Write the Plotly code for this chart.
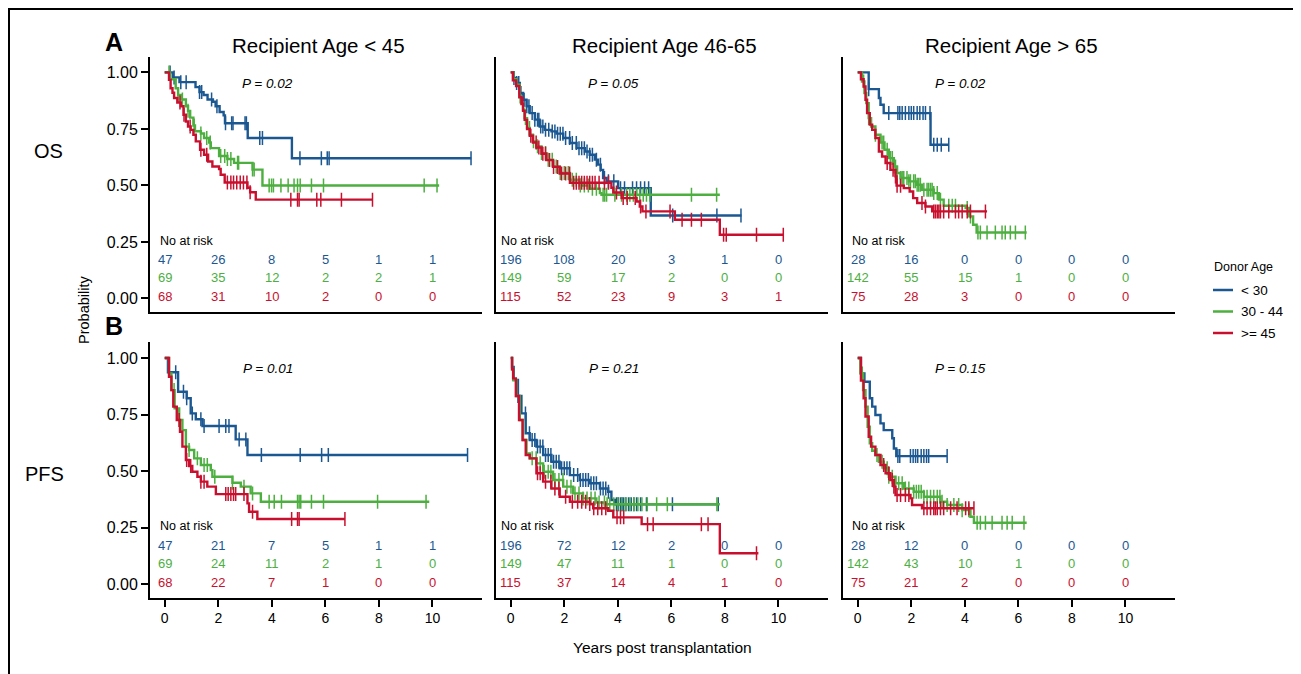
import bisect
import plotly.graph_objects as go

# ---------------- data ----------------
BLUE = "#1b5791"
GREEN = "#4caf3f"
RED = "#c8102e"

groups = ["< 30", "30 - 44", ">= 45"]
col_titles = ["Recipient Age < 45", "Recipient Age 46-65", "Recipient Age > 65"]
row_labels = ["OS", "PFS"]
p_values = [["P = 0.02", "P = 0.05", "P = 0.02"], ["P = 0.01", "P = 0.21", "P = 0.15"]]
risk_times = [0, 2, 4, 6, 8, 10]
x_ticks = [0, 2, 4, 6, 8, 10]
y_ticks = [0.0, 0.25, 0.5, 0.75, 1.0]
y_ticktext = ["0.00", "0.25", "0.50", "0.75", "1.00"]

# ---- OS, recipient < 45
os1_blue_t = [0, 0.3, 0.55, 1.15, 1.3, 1.45, 1.6, 1.8, 1.9, 2.05, 2.2, 2.25, 3.1, 4.75, 11.45]
os1_blue_s = [1, 0.978, 0.957, 0.935, 0.913, 0.90, 0.88, 0.87, 0.85, 0.825, 0.81, 0.775, 0.71, 0.62, 0.62]
os1_blue_c = [0.2, 0.35, 0.6, 0.8, 1.3, 1.38, 1.75, 1.95, 2.27, 2.5, 2.55, 3.0, 3.05, 3.55, 3.65, 5.05, 5.85, 6.07, 6.14, 11.44]
os1_green_t = [0, 0.2, 0.41, 0.50, 0.60, 0.79, 0.87, 0.95, 1.07, 1.13, 1.35, 1.47, 1.66, 1.72, 2.03, 2.34, 2.59, 3.28, 3.65, 10.25]
os1_green_s = [1, 0.97, 0.93, 0.90, 0.88, 0.85, 0.83, 0.80, 0.765, 0.74, 0.73, 0.71, 0.69, 0.665, 0.63, 0.617, 0.60, 0.57, 0.50, 0.50]
os1_green_c = [0.16, 0.50, 0.66, 0.87, 1.10, 1.35, 1.57, 1.70, 2.09, 2.24, 2.34, 2.47, 2.72, 2.76, 3.28, 3.34, 3.90, 3.99, 4.06, 4.34, 4.61, 4.83, 4.96, 5.06, 5.48, 5.93, 9.69, 10.17]
os1_red_t = [0, 0.16, 0.22, 0.29, 0.35, 0.47, 0.60, 0.70, 0.79, 0.87, 0.97, 1.07, 1.16, 1.32, 1.47, 1.62, 1.78, 2.03, 2.09, 2.24, 3.09, 3.19, 3.40, 7.76]
os1_red_s = [1, 0.967, 0.93, 0.91, 0.887, 0.867, 0.85, 0.813, 0.783, 0.761, 0.746, 0.724, 0.695, 0.658, 0.636, 0.606, 0.584, 0.573, 0.547, 0.513, 0.49, 0.47, 0.437, 0.437]
os1_red_c = [0.57, 0.72, 0.95, 1.35, 1.57, 2.34, 2.47, 2.57, 2.69, 2.82, 2.94, 3.07, 3.19, 4.71, 4.96, 5.02, 5.68, 5.83, 6.6, 7.76]

# ---- OS, recipient 46-65
os2_blue_t = [0, 0.1, 0.21, 0.34, 0.46, 0.59, 0.71, 0.90, 1.08, 1.27, 1.52, 1.71, 1.96, 2.21, 2.46, 2.77, 2.95, 3.14, 3.26, 3.36, 3.45, 3.58, 4.01, 5.23, 8.62]
os2_blue_s = [1, 0.975, 0.953, 0.909, 0.879, 0.85, 0.82, 0.791, 0.761, 0.746, 0.739, 0.729, 0.71, 0.688, 0.665, 0.65, 0.636, 0.614, 0.592, 0.569, 0.533, 0.518, 0.488, 0.367, 0.367]
os2_blue_c = [0.12, 0.22, 0.3, 0.38, 0.5, 0.6, 0.68, 0.8, 0.9, 1.0, 1.05, 1.12, 1.2, 1.3, 1.42, 1.55, 1.65, 1.75, 1.85, 1.95, 2.05, 2.2, 2.3, 2.45, 2.55, 2.65, 2.75, 2.85, 2.95, 3.05, 3.2, 3.35, 3.5, 3.65, 3.85, 4.1, 4.25, 4.55, 4.7, 4.85, 5.0, 5.15, 6.05, 7.7, 8.6]
os2_green_t = [0, 0.1, 0.21, 0.34, 0.40, 0.46, 0.52, 0.61, 0.71, 0.83, 0.96, 1.15, 1.33, 1.58, 1.83, 2.21, 2.58, 2.95, 3.33, 3.39, 7.81]
os2_green_s = [1, 0.97, 0.946, 0.894, 0.864, 0.835, 0.798, 0.754, 0.724, 0.695, 0.673, 0.643, 0.614, 0.584, 0.555, 0.525, 0.50, 0.485, 0.466, 0.459, 0.459]
os2_green_c = [0.35, 0.55, 0.7, 0.85, 1.0, 1.15, 1.3, 1.4, 1.55, 1.7, 1.85, 2.0, 2.15, 2.3, 2.45, 2.6, 2.75, 2.9, 3.05, 3.2, 3.45, 3.51, 3.58, 3.89, 4.14, 4.33, 4.45, 4.58, 4.70, 4.82, 4.95, 5.07, 5.20, 6.75, 7.69]
os2_red_t = [0, 0.08, 0.2, 0.32, 0.40, 0.46, 0.52, 0.61, 0.71, 0.83, 0.96, 1.15, 1.33, 1.58, 1.83, 2.21, 3.76, 3.83, 4.14, 4.70, 4.82, 4.92, 6.13, 7.81, 10.18]
os2_red_s = [1, 0.965, 0.94, 0.89, 0.86, 0.83, 0.79, 0.75, 0.72, 0.69, 0.668, 0.64, 0.612, 0.582, 0.553, 0.512, 0.49, 0.469, 0.444, 0.429, 0.407, 0.385, 0.348, 0.282, 0.282]
os2_red_c = [0.45, 0.75, 0.95, 1.05, 1.2, 1.3, 1.45, 1.6, 1.75, 1.9, 2.05, 2.2, 2.35, 2.45, 2.55, 2.65, 2.75, 2.85, 2.95, 3.05, 3.15, 3.3, 3.5, 3.65, 3.95, 4.2, 4.35, 4.65, 4.85, 5.05, 5.95, 6.4, 6.75, 7.12, 7.95, 8.05, 9.18, 10.18]

# ---- OS, recipient > 65
os3_blue_t = [0, 0.41, 0.79, 0.85, 0.97, 2.72, 3.40]
os3_blue_s = [1, 0.926, 0.887, 0.857, 0.82, 0.68, 0.68]
os3_blue_c = [0.41, 1.16, 1.50, 1.57, 1.66, 1.78, 1.91, 2.0, 2.09, 2.22, 2.32, 2.44, 2.53, 2.70, 2.84, 2.97, 3.12, 3.40]
os3_green_t = [0, 0.16, 0.25, 0.32, 0.41, 0.50, 0.66, 0.85, 1.0, 1.16, 1.35, 1.47, 1.60, 1.91, 2.22, 2.40, 2.84, 3.03, 3.21, 4.03, 4.15, 4.31, 4.44, 6.31]
os3_green_s = [1, 0.96, 0.909, 0.864, 0.798, 0.761, 0.724, 0.69, 0.658, 0.621, 0.584, 0.555, 0.533, 0.518, 0.503, 0.481, 0.466, 0.437, 0.41, 0.40, 0.363, 0.326, 0.292, 0.292]
os3_green_c = [0.22, 0.41, 0.66, 0.91, 0.97, 1.10, 1.22, 1.29, 1.35, 1.41, 1.47, 1.60, 1.66, 1.72, 1.84, 1.91, 1.97, 2.09, 2.15, 2.22, 2.28, 2.34, 2.47, 2.59, 2.65, 2.72, 2.78, 2.84, 2.97, 3.09, 3.40, 3.53, 3.65, 4.09, 4.21, 4.49, 4.58, 4.83, 5.14, 5.39, 5.51, 5.70, 5.89, 6.26]
os3_red_t = [0, 0.12, 0.22, 0.29, 0.35, 0.45, 0.54, 0.66, 0.79, 0.91, 1.04, 1.22, 1.41, 1.45, 1.72, 1.94, 2.07, 2.22, 2.53, 2.78, 4.83]
os3_red_s = [1, 0.97, 0.938, 0.879, 0.82, 0.769, 0.746, 0.71, 0.65, 0.628, 0.599, 0.569, 0.54, 0.499, 0.488, 0.473, 0.444, 0.422, 0.407, 0.385, 0.385]
os3_red_c = [1.10, 1.32, 1.41, 1.47, 1.60, 2.40, 2.53, 2.84, 2.90, 2.97, 3.03, 3.09, 3.21, 3.40, 3.65, 3.77, 3.90, 4.09, 4.21, 4.77]

# ---- PFS, recipient < 45
pfs1_blue_t = [0, 0.12, 0.50, 0.82, 0.97, 1.16, 1.41, 2.65, 3.09, 11.31]
pfs1_blue_s = [1, 0.937, 0.851, 0.822, 0.755, 0.729, 0.699, 0.64, 0.571, 0.571]
pfs1_blue_c = [0.41, 0.70, 0.82, 1.03, 1.35, 1.47, 2.03, 2.28, 2.40, 2.78, 3.03, 3.61, 5.06, 5.86, 6.11, 11.31]
pfs1_green_t = [0, 0.16, 0.25, 0.37, 0.54, 0.66, 0.79, 0.91, 1.10, 1.35, 1.72, 1.78, 2.53, 2.84, 3.21, 3.59, 9.88]
pfs1_green_s = [1, 0.932, 0.858, 0.777, 0.726, 0.681, 0.608, 0.593, 0.556, 0.527, 0.504, 0.475, 0.448, 0.431, 0.401, 0.364, 0.364]
pfs1_green_c = [0.35, 0.54, 0.91, 1.22, 1.47, 1.59, 1.87, 2.53, 2.96, 3.28, 3.90, 4.09, 4.36, 4.96, 5.02, 5.08, 5.48, 5.93, 7.95, 9.76]
pfs1_red_t = [0, 0.16, 0.25, 0.32, 0.45, 0.57, 0.66, 0.79, 0.91, 1.03, 1.22, 1.35, 1.59, 1.91, 3.09, 3.15, 3.46, 6.73]
pfs1_red_s = [1, 0.917, 0.858, 0.785, 0.726, 0.674, 0.608, 0.549, 0.522, 0.497, 0.475, 0.453, 0.431, 0.398, 0.357, 0.32, 0.288, 0.288]
pfs1_red_c = [0.54, 0.82, 0.97, 1.35, 1.47, 2.28, 2.37, 2.47, 2.57, 2.65, 2.96, 3.28, 4.74, 4.96, 5.02, 6.73]

# ---- PFS, recipient 46-65
pfs2_blue_t = [0, 0.05, 0.11, 0.27, 0.40, 0.56, 0.71, 0.96, 1.21, 1.52, 1.83, 2.21, 2.58, 2.95, 3.33, 3.64, 3.76, 3.89, 7.75]
pfs2_blue_s = [1, 0.96, 0.903, 0.832, 0.755, 0.667, 0.637, 0.608, 0.571, 0.541, 0.512, 0.482, 0.46, 0.446, 0.423, 0.408, 0.372, 0.353, 0.353]
pfs2_blue_c = [0.27, 0.55, 0.7, 0.8, 0.9, 1.0, 1.1, 1.2, 1.3, 1.4, 1.5, 1.6, 1.7, 1.8, 1.9, 2.0, 2.1, 2.2, 2.35, 2.5, 2.6, 2.7, 2.8, 2.9, 3.0, 3.1, 3.2, 3.35, 3.45, 3.55, 3.65, 3.95, 4.02, 4.1, 4.16, 4.22, 4.3, 4.4, 4.5, 4.6, 4.7, 4.85, 5.07, 6.04, 7.75]
pfs2_green_t = [0, 0.05, 0.09, 0.21, 0.34, 0.46, 0.59, 0.71, 0.96, 1.21, 1.58, 1.96, 2.33, 2.70, 3.20, 3.51, 7.81]
pfs2_green_s = [1, 0.95, 0.903, 0.832, 0.726, 0.637, 0.578, 0.556, 0.534, 0.497, 0.46, 0.431, 0.401, 0.379, 0.361, 0.353, 0.353]
pfs2_green_c = [0.8, 0.95, 1.1, 1.25, 1.4, 1.5, 1.65, 1.8, 1.95, 2.1, 2.25, 2.4, 2.55, 2.7, 2.85, 3.0, 3.15, 3.3, 3.5, 3.6, 3.7, 3.85, 4.0, 4.15, 4.3, 4.45, 4.6, 4.75, 4.9, 5.1, 5.45, 5.85, 7.7]
pfs2_red_t = [0, 0.05, 0.09, 0.19, 0.31, 0.44, 0.56, 0.71, 0.96, 1.21, 1.52, 1.83, 2.21, 2.95, 3.08, 3.64, 3.83, 4.89, 7.81, 9.25]
pfs2_red_s = [1, 0.95, 0.91, 0.832, 0.726, 0.637, 0.571, 0.556, 0.49, 0.453, 0.423, 0.386, 0.364, 0.354, 0.335, 0.324, 0.295, 0.265, 0.136, 0.136]
pfs2_red_c = [1.0, 1.1, 1.3, 1.5, 1.65, 1.8, 2.05, 2.3, 2.5, 2.65, 2.8, 2.95, 3.1, 3.25, 3.4, 3.55, 3.97, 4.1, 4.22, 5.11, 5.32, 7.12, 7.37, 9.18]

# ---- PFS, recipient > 65
pfs3_blue_t = [0, 0.12, 0.25, 0.45, 0.54, 0.66, 0.85, 0.97, 1.29, 1.35, 1.44, 3.34]
pfs3_blue_s = [1, 0.932, 0.895, 0.822, 0.785, 0.748, 0.711, 0.681, 0.645, 0.60, 0.566, 0.566]
pfs3_blue_c = [1.50, 1.57, 1.97, 2.07, 2.16, 2.24, 2.37, 2.47, 2.57, 2.65, 3.34]
pfs3_green_t = [0, 0.10, 0.20, 0.29, 0.37, 0.45, 0.54, 0.66, 0.79, 0.97, 1.16, 1.41, 1.72, 2.09, 2.47, 3.09, 3.34, 3.90, 4.21, 4.34, 6.31]
pfs3_green_s = [1, 0.932, 0.858, 0.785, 0.696, 0.623, 0.59, 0.571, 0.541, 0.512, 0.475, 0.446, 0.423, 0.408, 0.386, 0.364, 0.35, 0.327, 0.298, 0.271, 0.271]
pfs3_green_c = [0.17, 0.72, 0.91, 1.10, 1.16, 1.29, 1.41, 1.53, 1.66, 1.78, 1.91, 2.09, 2.19, 2.28, 2.37, 2.47, 2.59, 2.72, 2.84, 2.97, 3.07, 3.15, 3.34, 3.59, 3.77, 3.90, 4.15, 4.46, 4.58, 4.77, 5.02, 5.39, 5.58, 5.77, 6.21]
pfs3_red_t = [0, 0.12, 0.22, 0.29, 0.41, 0.50, 0.66, 0.85, 1.04, 1.22, 1.35, 1.41, 1.97, 2.03, 2.40, 4.34]
pfs3_red_s = [1, 0.90, 0.822, 0.741, 0.652, 0.608, 0.571, 0.527, 0.49, 0.46, 0.431, 0.394, 0.379, 0.35, 0.335, 0.335]
pfs3_red_c = [0.97, 1.16, 1.29, 1.35, 1.47, 1.60, 1.78, 1.91, 2.47, 2.59, 2.72, 2.84, 2.90, 2.97, 3.09, 3.21, 3.47, 3.71, 4.03, 4.15, 4.34]

# ---- numbers at risk (rows: <30, 30-44, >=45)
risk_os1 = [[47, 26, 8, 5, 1, 1], [69, 35, 12, 2, 2, 1], [68, 31, 10, 2, 0, 0]]
risk_os2 = [[196, 108, 20, 3, 1, 0], [149, 59, 17, 2, 0, 0], [115, 52, 23, 9, 3, 1]]
risk_os3 = [[28, 16, 0, 0, 0, 0], [142, 55, 15, 1, 0, 0], [75, 28, 3, 0, 0, 0]]
risk_pfs1 = [[47, 21, 7, 5, 1, 1], [69, 24, 11, 2, 1, 0], [68, 22, 7, 1, 0, 0]]
risk_pfs2 = [[196, 72, 12, 2, 0, 0], [149, 47, 11, 1, 0, 0], [115, 37, 14, 4, 1, 0]]
risk_pfs3 = [[28, 12, 0, 0, 0, 0], [142, 43, 10, 1, 0, 0], [75, 21, 2, 0, 0, 0]]

# ---------------- figure ----------------
COLORS = [BLUE, GREEN, RED]
OFF = 8                     # page body margin in the browser
W, H = 1301 - OFF, 674 - OFF
FONT = "Liberation Sans, Arial, Helvetica, sans-serif"


def px(x):
    return (x - OFF) / W


def py(y):
    return 1 - (y - OFF) / H


panels = [
    [(os1_blue_t, os1_blue_s, os1_blue_c), (os1_green_t, os1_green_s, os1_green_c), (os1_red_t, os1_red_s, os1_red_c), risk_os1],
    [(os2_blue_t, os2_blue_s, os2_blue_c), (os2_green_t, os2_green_s, os2_green_c), (os2_red_t, os2_red_s, os2_red_c), risk_os2],
    [(os3_blue_t, os3_blue_s, os3_blue_c), (os3_green_t, os3_green_s, os3_green_c), (os3_red_t, os3_red_s, os3_red_c), risk_os3],
    [(pfs1_blue_t, pfs1_blue_s, pfs1_blue_c), (pfs1_green_t, pfs1_green_s, pfs1_green_c), (pfs1_red_t, pfs1_red_s, pfs1_red_c), risk_pfs1],
    [(pfs2_blue_t, pfs2_blue_s, pfs2_blue_c), (pfs2_green_t, pfs2_green_s, pfs2_green_c), (pfs2_red_t, pfs2_red_s, pfs2_red_c), risk_pfs2],
    [(pfs3_blue_t, pfs3_blue_s, pfs3_blue_c), (pfs3_green_t, pfs3_green_s, pfs3_green_c), (pfs3_red_t, pfs3_red_s, pfs3_red_c), risk_pfs3],
]


def surv_at(ts, ss, t):
    i = bisect.bisect_right(ts, t) - 1
    return ss[max(i, 0)]


x_dom_px = [(150, 482), (496, 828), (843, 1175)]
y_dom_px = [(56.6, 312), (342.2, 597.6)]
x_range = [-0.55, 11.85]
y_range = [-0.06, 1.07]
risk_label_x = [-0.27, -0.45, -0.3]
risk_rows_y = [0.172, 0.091, 0.008]

fig = go.Figure()
layout = {}
annotations = []
shapes = []

for k in range(6):
    r, c = divmod(k, 3)
    ax = "" if k == 0 else str(k + 1)
    xa, ya = "x" + ax, "y" + ax
    curves = panels[k][:3]
    risk = panels[k][3]
    for g, (ts, ss, cs) in enumerate(curves):
        fig.add_trace(go.Scatter(x=ts, y=ss, mode="lines", line=dict(color=COLORS[g], width=2.4, shape="hv"),
                                 xaxis=xa, yaxis=ya, showlegend=False, hoverinfo="skip"))
        fig.add_trace(go.Scatter(x=cs, y=[surv_at(ts, ss, t) for t in cs], mode="markers",
                                 marker=dict(symbol="line-ns", size=10, line=dict(color=COLORS[g], width=1.5)),
                                 xaxis=xa, yaxis=ya, showlegend=False, hoverinfo="skip"))
        for tt, n in zip(risk_times, risk[g]):
            annotations.append(dict(x=tt, y=risk_rows_y[g], xref=xa, yref=ya, text=str(n), showarrow=False,
                                    xanchor="center", yanchor="middle", font=dict(family=FONT, size=13, color=COLORS[g])))
    annotations.append(dict(x=risk_label_x[c], y=0.255, xref=xa, yref=ya, text="No at risk", showarrow=False,
                            xanchor="left", yanchor="middle", font=dict(family=FONT, size=12.5, color="black")))
    annotations.append(dict(x=3.85, y=0.952, xref=xa, yref=ya, text="<i>" + p_values[r][c] + "</i>", showarrow=False,
                            xanchor="center", yanchor="middle", font=dict(family=FONT, size=13.5, color="black")))

    xd = [px(x_dom_px[c][0]), px(x_dom_px[c][1])]
    yd = [py(y_dom_px[r][1]), py(y_dom_px[r][0])]
    xkey = "xaxis" if k == 0 else "xaxis%d" % (k + 1)
    ykey = "yaxis" if k == 0 else "yaxis%d" % (k + 1)
    layout[xkey] = dict(domain=xd, range=x_range, anchor=ya, showgrid=False, zeroline=False, showline=True,
                        linecolor="black", linewidth=2, tickvals=x_ticks,
                        ticks="outside" if r == 1 else "", ticklen=7, tickwidth=1.5, tickcolor="black",
                        showticklabels=(r == 1), tickfont=dict(family=FONT, size=14, color="black"))
    layout[ykey] = dict(domain=yd, range=y_range, anchor=xa, showgrid=False, zeroline=False, showline=True,
                        linecolor="black", linewidth=2, tickvals=y_ticks, ticktext=y_ticktext,
                        ticks="outside" if c == 0 else "", ticklen=7, tickwidth=1.5, tickcolor="black",
                        showticklabels=(c == 0), tickfont=dict(family=FONT, size=16, color="black"))

# column titles
for c, title in enumerate(col_titles):
    cx = (x_dom_px[c][0] + x_dom_px[c][1]) / 2 + 2
    annotations.append(dict(x=px(cx), y=py(45), xref="paper", yref="paper", text=title, showarrow=False,
                            xanchor="center", yanchor="middle", font=dict(family=FONT, size=20.5, color="black")))
# row labels and panel letters
annotations.append(dict(x=px(48), y=py(151), xref="paper", yref="paper", text=row_labels[0], showarrow=False,
                        xanchor="center", yanchor="middle", font=dict(family=FONT, size=20, color="black")))
annotations.append(dict(x=px(44), y=py(474), xref="paper", yref="paper", text=row_labels[1], showarrow=False,
                        xanchor="center", yanchor="middle", font=dict(family=FONT, size=20, color="black")))
annotations.append(dict(x=px(114), y=py(42), xref="paper", yref="paper", text="<b>A</b>", showarrow=False,
                        xanchor="center", yanchor="middle", font=dict(family=FONT, size=25, color="black")))
annotations.append(dict(x=px(114), y=py(326), xref="paper", yref="paper", text="<b>B</b>", showarrow=False,
                        xanchor="center", yanchor="middle", font=dict(family=FONT, size=25, color="black")))
annotations.append(dict(x=px(84), y=py(310), xref="paper", yref="paper", text="Probability", showarrow=False,
                        textangle=-90, xanchor="center", yanchor="middle", font=dict(family=FONT, size=14.5, color="black")))
annotations.append(dict(x=px(663), y=py(647), xref="paper", yref="paper", text="Years post transplantation",
                        showarrow=False, xanchor="center", yanchor="middle", font=dict(family=FONT, size=15.5, color="black")))

# manual legend
annotations.append(dict(x=px(1212), y=py(267), xref="paper", yref="paper", text="Donor Age", showarrow=False,
                        xanchor="left", yanchor="middle", font=dict(family=FONT, size=12.5, color="black")))
for g, name in enumerate(groups):
    yy = py(290 + 21.5 * g)
    shapes.append(dict(type="line", xref="paper", yref="paper", x0=px(1213), x1=px(1233), y0=yy, y1=yy,
                       line=dict(color=COLORS[g], width=2.5)))
    annotations.append(dict(x=px(1239), y=yy, xref="paper", yref="paper", text=name, showarrow=False,
                            xanchor="left", yanchor="middle", font=dict(family=FONT, size=13.5, color="black")))

# outer frame
shapes.append(dict(type="rect", xref="paper", yref="paper", x0=px(9), x1=px(1297), y0=-0.1, y1=py(9),
                   line=dict(color="black", width=2), fillcolor="rgba(0,0,0,0)", layer="below"))

fig.update_layout(width=W, height=H, margin=dict(l=0, r=0, t=0, b=0), paper_bgcolor="white",
                  plot_bgcolor="white", showlegend=False, annotations=annotations, shapes=shapes, **layout)
fig.write_html("out.html")
